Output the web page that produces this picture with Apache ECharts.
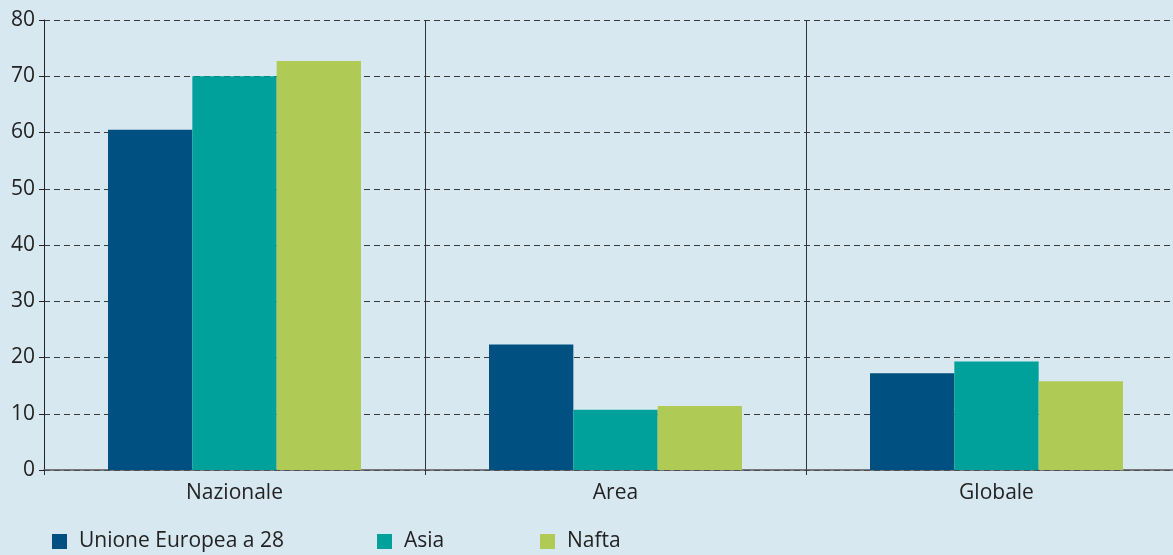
<!DOCTYPE html>
<html>
<head>
<meta charset="utf-8">
<script src="https://cdn.jsdelivr.net/npm/echarts@6/dist/echarts.min.js"></script>
<style>
  html, body { margin: 0; padding: 0; background: #d8e8f0; }
  #chart { width: 1173px; height: 555px; }
</style>
</head>
<body>
<div id="chart"></div>
<script>
const categories = ['Nazionale', 'Area', 'Globale'];
const seriesNames = ['Unione Europea a 28', 'Asia', 'Nafta'];
const ueValues = [60.5, 22.3, 17.2];
const asiaValues = [70.0, 10.7, 19.3];
const naftaValues = [72.7, 11.4, 15.8];
const colors = ['#005082', '#00a19a', '#b0cb55'];

const FONT = 'Open Sans';
const legendLefts = [47, 372, 535];
const chart = echarts.init(document.getElementById('chart'), null, { renderer: 'canvas' });

const makeBar = (name, data, i) => ({
  name,
  type: 'bar',
  data,
  barGap: 0,
  barCategoryGap: '33.6%',
  itemStyle: { color: colors[i] },
  z: 3,
});

// one legend per item so the spacing matches the original
const makeLegend = (name, i) => ({
  left: legendLefts[i],
  bottom: -2,
  itemWidth: 15,
  itemHeight: 15,
  icon: 'rect',
  data: [name],
  textStyle: { fontFamily: FONT, fontSize: 21, color: '#222', padding: [0, 0, 0, 7] },
});

chart.setOption({
  backgroundColor: '#d8e8f0',
  animation: false,
  textStyle: { fontFamily: FONT },
  // plot runs past the right edge of the picture, as in the original
  grid: { left: 44, top: 20, width: 1143, height: 450, containLabel: false, outerBoundsMode: 'none' },
  legend: seriesNames.map(makeLegend),
  xAxis: {
    type: 'category',
    data: categories,
    axisLine: { lineStyle: { color: '#555', width: 1.5 } },
    axisTick: { show: true, length: 5, lineStyle: { color: '#333' } },
    splitLine: { show: true, lineStyle: { color: '#333', width: 1 } },
    axisLabel: { fontFamily: FONT, fontSize: 21, color: '#222', margin: 13 },
  },
  yAxis: {
    type: 'value',
    min: 0,
    max: 80,
    interval: 10,
    axisLine: { show: true, lineStyle: { color: '#222', width: 1 } },
    axisTick: { show: true, length: 5, lineStyle: { color: '#222' } },
    splitLine: { show: true, lineStyle: { color: '#3a3a3a', type: [6, 4], width: 1 } },
    axisLabel: { fontFamily: FONT, fontSize: 21, color: '#222', margin: 9 },
  },
  series: [
    makeBar(seriesNames[0], ueValues, 0),
    makeBar(seriesNames[1], asiaValues, 1),
    makeBar(seriesNames[2], naftaValues, 2),
  ],
});
</script>
</body>
</html>
